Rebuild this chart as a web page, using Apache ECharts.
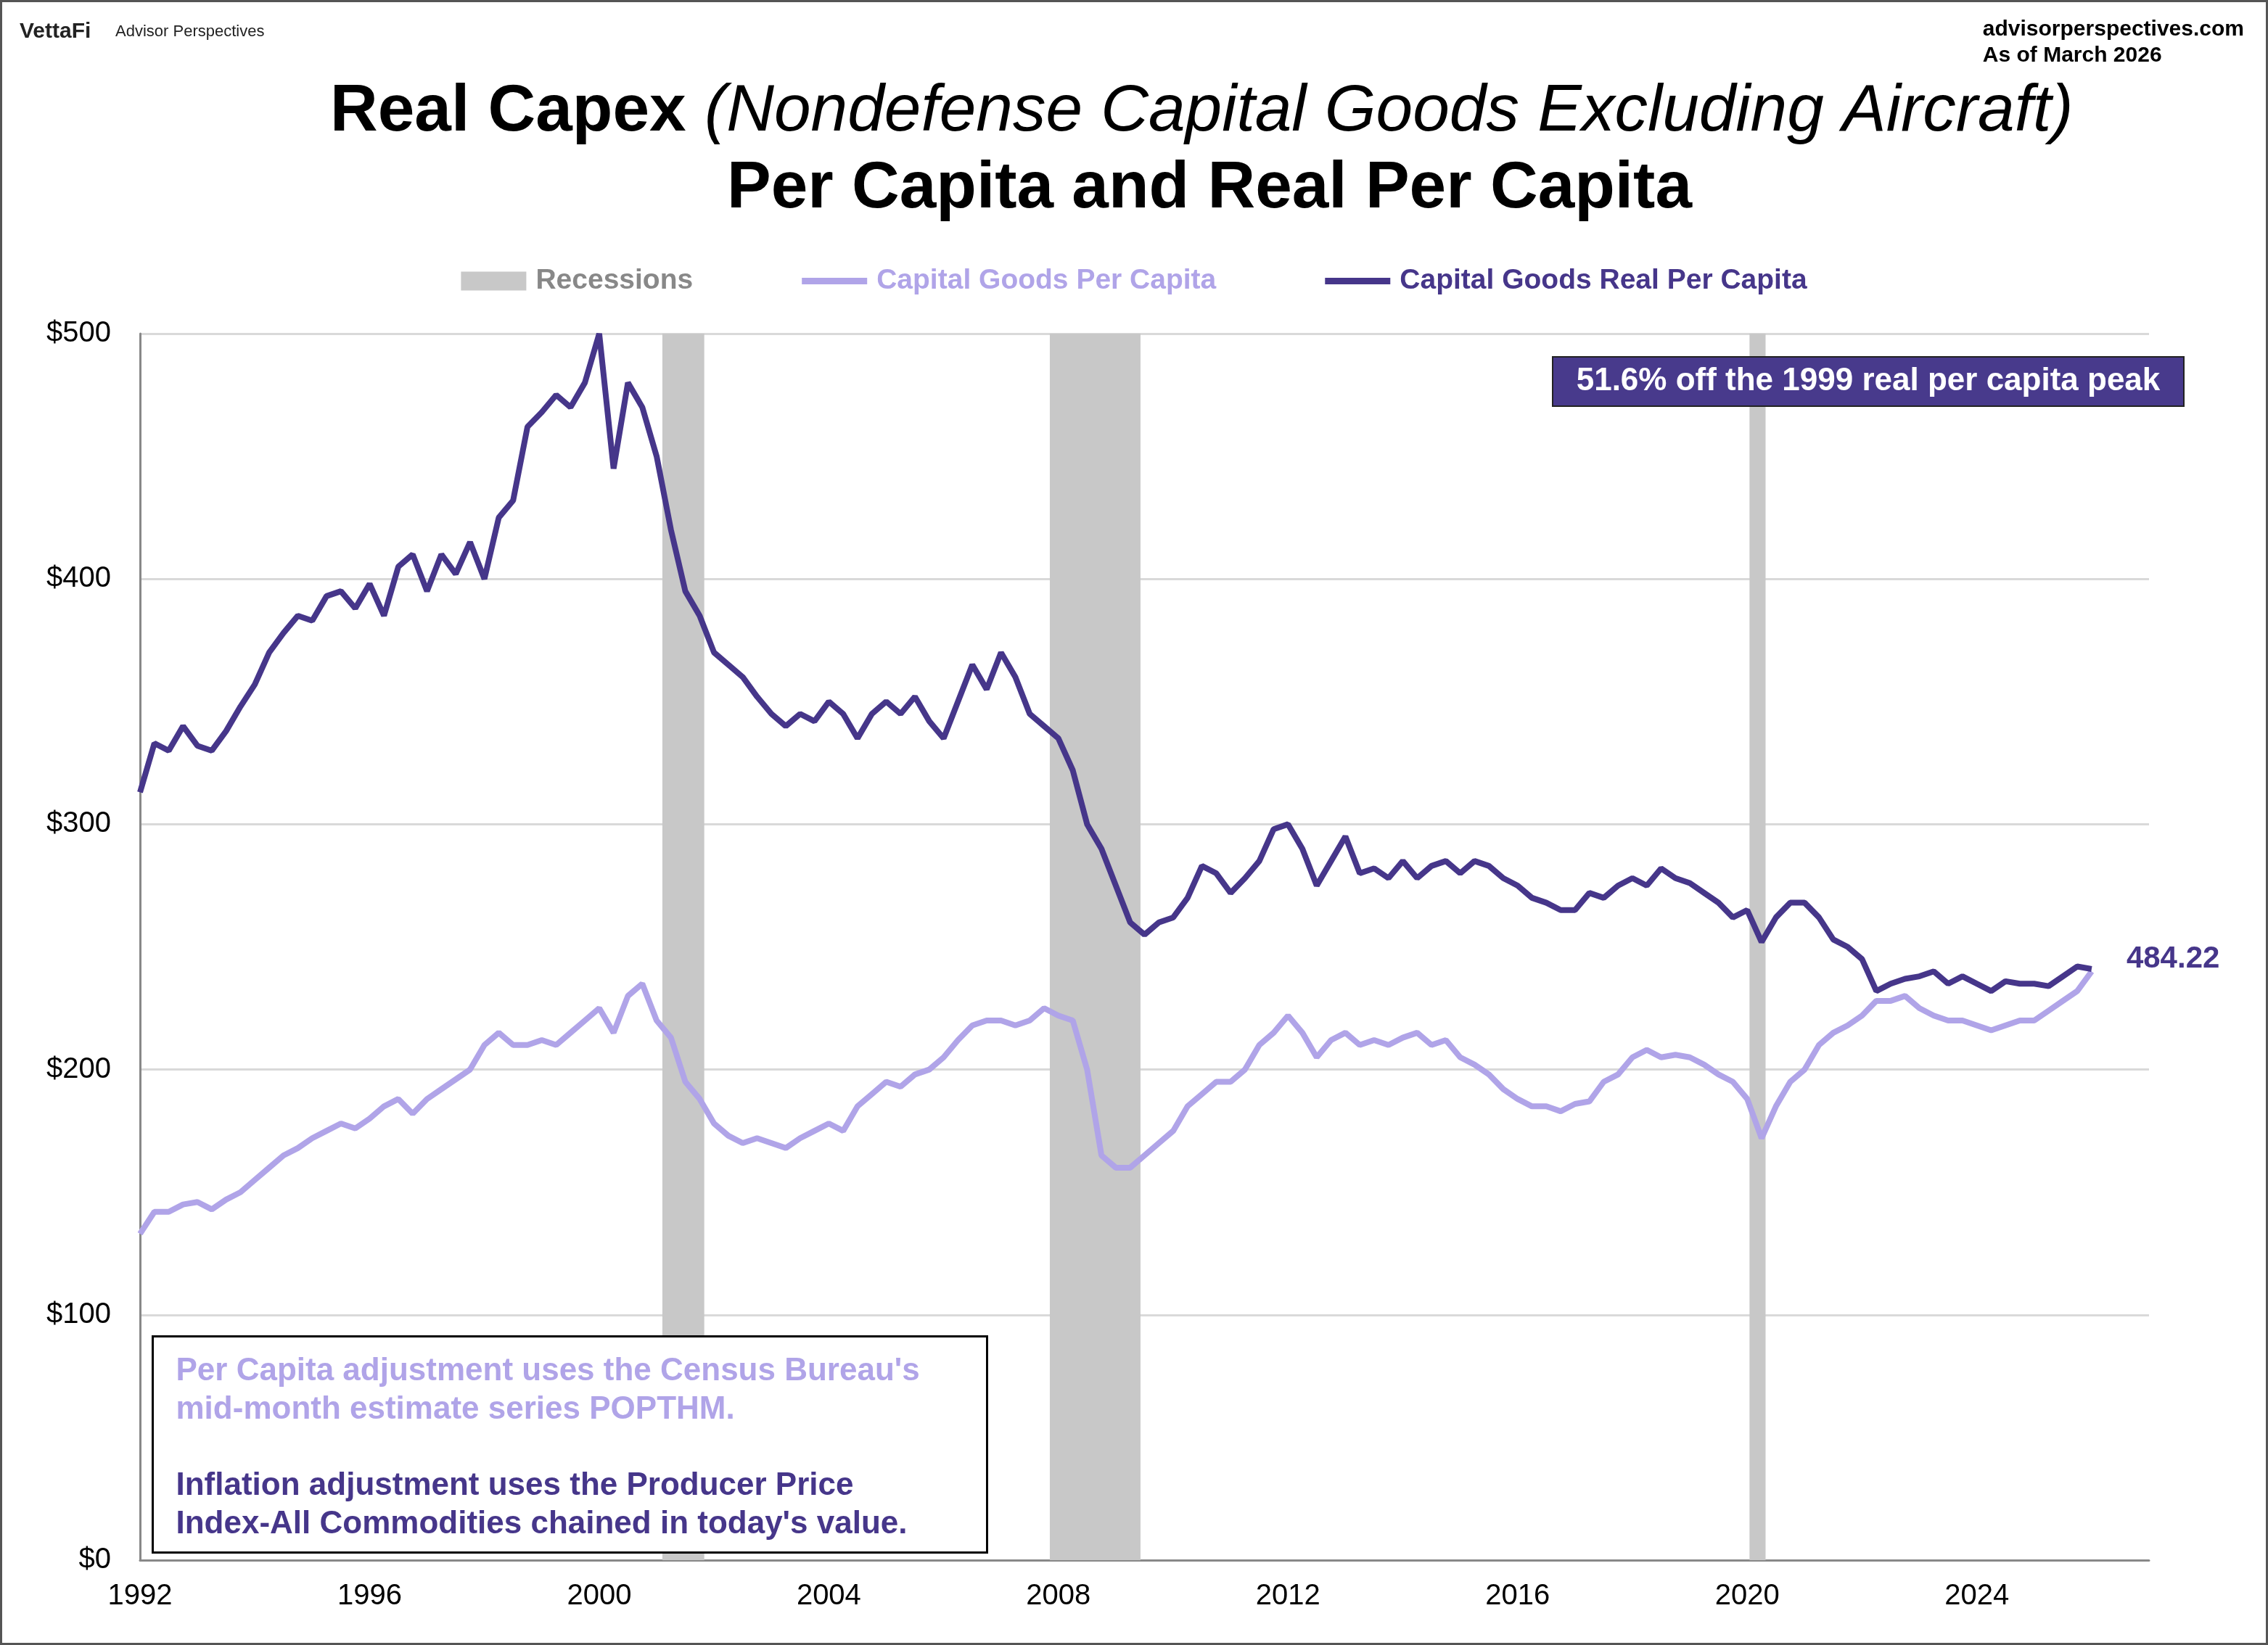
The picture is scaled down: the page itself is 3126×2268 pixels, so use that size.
<!DOCTYPE html>
<html>
<head>
<meta charset="utf-8">
<script src="https://cdn.jsdelivr.net/npm/echarts@6/dist/echarts.min.js"></script>
<style>
  html, body { margin: 0; padding: 0; background: #fff; }
  #chart { width: 3126px; height: 2268px; box-sizing: border-box; border: 3px solid #555; }
</style>
</head>
<body>
<div id="chart"></div>
<script>
// quarterly readings, starting Q1 1992
const startYear = 1992;
const realPerCapita = [
  313, 333, 330, 340, 332, 330, 338, 348, 357, 370, 378, 385,
  383, 393, 395, 388, 398, 385, 405, 410, 395, 410, 402, 415,
  400, 425, 432, 462, 468, 475, 470, 480, 500, 445, 480, 470,
  450, 420, 395, 385, 370, 365, 360, 352, 345, 340, 345, 342,
  350, 345, 335, 345, 350, 345, 352, 342, 335, 350, 365, 355,
  370, 360, 345, 340, 335, 322, 300, 290, 275, 260, 255, 260,
  262, 270, 283, 280, 272, 278, 285, 298, 300, 290, 275, 285,
  295, 280, 282, 278, 285, 278, 283, 285, 280, 285, 283, 278,
  275, 270, 268, 265, 265, 272, 270, 275, 278, 275, 282, 278,
  276, 272, 268, 262, 265, 252, 262, 268, 268, 262, 253, 250,
  245, 232, 235, 237, 238, 240, 235, 238, 235, 232, 236, 235,
  235, 234, 238, 242, 241
];
const perCapita = [
  133, 142, 142, 145, 146, 143, 147, 150, 155, 160, 165, 168,
  172, 175, 178, 176, 180, 185, 188, 182, 188, 192, 196, 200,
  210, 215, 210, 210, 212, 210, 215, 220, 225, 215, 230, 235,
  220, 213, 195, 188, 178, 173, 170, 172, 170, 168, 172, 175,
  178, 175, 185, 190, 195, 193, 198, 200, 205, 212, 218, 220,
  220, 218, 220, 225, 222, 220, 200, 165, 160, 160, 165, 170,
  175, 185, 190, 195, 195, 200, 210, 215, 222, 215, 205, 212,
  215, 210, 212, 210, 213, 215, 210, 212, 205, 202, 198, 192,
  188, 185, 185, 183, 186, 187, 195, 198, 205, 208, 205, 206,
  205, 202, 198, 195, 188, 172, 185, 195, 200, 210, 215, 218,
  222, 228, 228, 230, 225, 222, 220, 220, 218, 216, 218, 220,
  220, 224, 228, 232, 240
];
const recessions = [[2001.1, 2001.83], [2007.85, 2009.43], [2020.04, 2020.32]];
const yTicks = [0, 100, 200, 300, 400, 500];

const dark = '#46368a';
const light = '#b0a4e8';
const toPairs = (arr) => arr.map((v, i) => [startYear + i * 0.25, v]);

const chart = echarts.init(document.getElementById('chart'));
chart.setOption({
  animation: false,
  textStyle: { fontFamily: 'Liberation Sans, Arial, sans-serif' },
  grid: { left: 190, right: 161, top: 457, bottom: 114 },
  xAxis: {
    type: 'value', min: 1992, max: 2027, interval: 4,
    axisLine: { lineStyle: { color: '#888', width: 3 } },
    axisTick: { show: false },
    axisLabel: { color: '#000', fontSize: 40, margin: 30, formatter: (v) => v > 2026 ? '' : String(v) },
    splitLine: { show: false }
  },
  yAxis: {
    type: 'value', min: 0, max: 500, interval: 100,
    axisLine: { show: true, lineStyle: { color: '#888', width: 3 } },
    axisTick: { show: false },
    axisLabel: { color: '#000', fontSize: 40, margin: 40, formatter: (v) => yTicks.includes(v) ? '$' + v : '' },
    splitLine: { lineStyle: { color: '#d9d9d9', width: 3 } }
  },
  legend: {
    top: 360, left: 'center', itemGap: 150, itemWidth: 90, itemHeight: 26,
    textStyle: { fontSize: 39, fontWeight: 'bold', padding: [0, 0, 0, 8] },
    data: [
      { name: 'Recessions', icon: 'rect', itemStyle: { color: '#c8c8c8' }, textStyle: { color: '#888' } },
      { name: 'Capital Goods Per Capita', icon: 'path://M0,0 L10,0 L10,1 L0,1 Z', textStyle: { color: light } },
      { name: 'Capital Goods Real Per Capita', icon: 'path://M0,0 L10,0 L10,1 L0,1 Z', textStyle: { color: dark } }
    ]
  },
  series: [
    {
      name: 'Recessions', type: 'line', data: [], itemStyle: { color: '#c8c8c8' },
      markArea: {
        silent: true, itemStyle: { color: '#c8c8c8' },
        data: recessions.map(r => [{ xAxis: r[0] }, { xAxis: r[1] }])
      }
    },
    {
      name: 'Capital Goods Per Capita', type: 'line', data: toPairs(perCapita),
      showSymbol: false, lineStyle: { color: light, width: 8 }, itemStyle: { color: light }
    },
    {
      name: 'Capital Goods Real Per Capita', type: 'line', data: toPairs(realPerCapita),
      showSymbol: false, lineStyle: { color: dark, width: 8 }, itemStyle: { color: dark },
      endLabel: { show: true, formatter: '484.22', color: dark, fontSize: 42, fontWeight: 'bold', offset: [40, -14] }
    }
  ],
  graphic: [
    { type: 'text', left: 24, top: 26, style: { text: 'VettaFi', font: 'bold 30px Liberation Sans', fill: '#222' } },
    { type: 'text', left: 156, top: 30, style: { text: 'Advisor Perspectives', font: '22px Liberation Sans', fill: '#222' } },
    { type: 'text', right: 30, top: 20, style: { text: 'advisorperspectives.com\nAs of March 2026', font: 'bold 30px Liberation Sans', fill: '#000', align: 'right', lineHeight: 36 } },
    {
      type: 'text', left: 452, top: 106,
      style: {
        text: '{b|Real Capex }{i|(Nondefense Capital Goods Excluding Aircraft)}',
        rich: {
          b: { font: 'bold 91px Liberation Sans', fill: '#000' },
          i: { font: 'italic 91px Liberation Sans', fill: '#000' }
        }
      }
    },
    { type: 'text', x: 1664, y: 212, style: { text: 'Per Capita and Real Per Capita', font: 'bold 91px Liberation Sans', fill: '#000', align: 'center' } },
    {
      type: 'group', left: 2136, top: 488, z: 100,
      children: [
        { type: 'rect', z: 100, shape: { width: 870, height: 68 }, style: { fill: '#483a8c', stroke: '#222', lineWidth: 2 } },
        { type: 'text', z: 101, x: 435, y: 34, style: { text: '51.6% off the 1999 real per capita peak', font: 'bold 44px Liberation Sans', fill: '#fff', align: 'center', verticalAlign: 'middle' } }
      ]
    },
    {
      type: 'group', left: 206, top: 1838, z: 100,
      children: [
        { type: 'rect', z: 100, shape: { width: 1150, height: 298 }, style: { fill: '#fff', stroke: '#000', lineWidth: 3 } },
        { type: 'text', z: 101, x: 32, y: 22, style: { text: "Per Capita adjustment uses the Census Bureau's\nmid-month estimate series POPTHM.", font: 'bold 44px Liberation Sans', fill: light, lineHeight: 53 } },
        { type: 'text', z: 101, x: 32, y: 180, style: { text: "Inflation adjustment uses the Producer Price\nIndex-All Commodities chained in today's value.", font: 'bold 44px Liberation Sans', fill: dark, lineHeight: 53 } }
      ]
    }
  ]
});
</script>
</body>
</html>
